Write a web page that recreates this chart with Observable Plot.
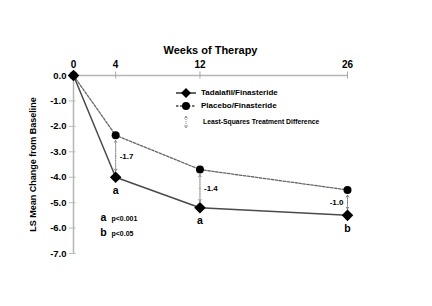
<!DOCTYPE html>
<html>
<head>
<meta charset="utf-8">
<script src="https://cdn.jsdelivr.net/npm/d3@7"></script>
<script src="https://cdn.jsdelivr.net/npm/@observablehq/plot@0.6"></script>
<style>
  body { margin: 0; background: white; }
  #wrap { position: relative; width: 432px; height: 306px; font-family: "Liberation Sans", Arial, sans-serif; font-weight: bold; }
  #legend { position: absolute; left: 175px; top: 86px; }
  .row { display: flex; align-items: center; height: 13px; }
  .row span { font-size: 8px; margin-left: 4px; }
  .row.small { height: 17px; margin-top: 1px; }
  .row.small span { font-size: 6.8px; margin-left: 6px; }
</style>
</head>
<body>
<div id="wrap"></div>
<script>
const weeks = [0, 4, 12, 26];
const tadalafil = [0, -4.0, -5.2, -5.5];
const placebo = [0, -2.35, -3.7, -4.5];
const seriesNames = ["Tadalafil/Finasteride", "Placebo/Finasteride"];
const diffWeeks = [4, 12, 26];
const diffLabels = ["-1.7", "-1.4", "-1.0"];
const sigLetters = ["a", "a", "b"];
const xTicks = [0, 4, 12, 26];
const yTicks = [0, -1, -2, -3, -4, -5, -6, -7];
const footLetters = ["a", "b"];
const footTexts = ["p<0.001", "p<0.05"];
const legendDiffText = "Least-Squares Treatment Difference";

const tadRows = weeks.map((w, i) => ({week: w, value: tadalafil[i]}));
const plaRows = weeks.map((w, i) => ({week: w, value: placebo[i]}));
const diffRows = diffWeeks.map((w, i) => {
  const j = weeks.indexOf(w);
  return {week: w, pla: placebo[j], tad: tadalafil[j], mid: (placebo[j] + tadalafil[j]) / 2, label: diffLabels[i], sig: sigLetters[i]};
});

const footMarks = footLetters.flatMap((l, i) => [
  Plot.text([l], {frameAnchor: "bottom-left", dx: 30, dy: -33 + i * 15, fontSize: 10.5, textAnchor: "middle"}),
  Plot.text([footTexts[i]], {frameAnchor: "bottom-left", dx: 38, dy: -33 + i * 15, fontSize: 7, textAnchor: "start"})
]);

const plot = Plot.plot({
  width: 432, height: 306,
  marginTop: 75, marginLeft: 73, marginRight: 85, marginBottom: 53,
  style: {fontFamily: "Liberation Sans, Arial, sans-serif", fontWeight: "bold", background: "white", color: "black", overflow: "visible"},
  x: {domain: [0, 26]},
  y: {domain: [-7, 0]},
  marks: [
    Plot.ruleX([0], {y1: -7, y2: 0, stroke: "#b5b5b5", strokeWidth: 1.5}),
    Plot.ruleY([0], {x1: 0, x2: 26, stroke: "#b5b5b5", strokeWidth: 1.5}),
    Plot.ruleX(xTicks.slice(1), {y1: -0.14, y2: 0.14, stroke: "#aaa"}),
    Plot.ruleY(yTicks.slice(1), {x1: -0.4, x2: 0.25, stroke: "#bbb"}),
    Plot.axisX({anchor: "top", ticks: xTicks, tickSize: 0, tickPadding: 8, tickFormat: d => String(d), fontSize: 10, label: null}),
    Plot.axisY({anchor: "left", ticks: yTicks, tickSize: 0, tickPadding: 7, tickFormat: d => d.toFixed(1), fontSize: 9.5, label: null}),
    Plot.text(["Weeks of Therapy"], {frameAnchor: "top", dy: -29, fontSize: 11}),
    Plot.text(["LS Mean Change from Baseline"], {frameAnchor: "left", dx: -40, rotate: -90, textAnchor: "middle", fontSize: 9}),
    Plot.line(plaRows, {x: "week", y: "value", stroke: "#666", strokeWidth: 1.3, strokeDasharray: "2.5,1.5"}),
    Plot.line(tadRows, {x: "week", y: "value", stroke: "#4a4a4a", strokeWidth: 1.5}),
    Plot.arrow(diffRows, {x1: "week", x2: "week", y1: "mid", y2: "pla", insetEnd: 5, stroke: "#777", strokeWidth: 0.9, strokeDasharray: "1,1", headLength: 4}),
    Plot.arrow(diffRows, {x1: "week", x2: "week", y1: "mid", y2: "tad", insetEnd: 6, stroke: "#777", strokeWidth: 0.9, strokeDasharray: "1,1", headLength: 4}),
    Plot.dot(plaRows, {x: "week", y: "value", r: 4, fill: "black", symbol: "circle"}),
    Plot.dot(tadRows, {x: "week", y: "value", r: 5.2, fill: "black", symbol: "diamond2"}),
    Plot.text(diffRows.filter(d => d.week !== 26), {x: "week", y: "mid", text: "label", dx: 4, textAnchor: "start", fontSize: 8}),
    Plot.text(diffRows.filter(d => d.week === 26), {x: "week", y: "mid", text: "label", dx: -4, textAnchor: "end", fontSize: 8}),
    Plot.text(diffRows, {x: "week", y: "tad", text: "sig", dy: 13, fontSize: 10.5}),
    ...footMarks
  ]
});

const wrap = document.getElementById("wrap");
wrap.appendChild(plot);

const legend = document.createElement("div");
legend.id = "legend";
legend.innerHTML = `
  <div class="row"><svg width="22" height="12"><line x1="1" x2="21" y1="6" y2="6" stroke="#333" stroke-width="1.5"/><path d="M11,1 L16,6 L11,11 L6,6 Z" fill="black"/></svg><span>${seriesNames[0]}</span></div>
  <div class="row"><svg width="22" height="12"><line x1="1" x2="21" y1="6" y2="6" stroke="#444" stroke-width="1.3" stroke-dasharray="2.5,1.5"/><circle cx="11" cy="6" r="4" fill="black"/></svg><span>${seriesNames[1]}</span></div>
  <div class="row small"><svg width="22" height="14"><line x1="11" x2="11" y1="2" y2="12" stroke="#777" stroke-width="0.9" stroke-dasharray="1,1"/><path d="M9.5,3.5 L11,1 L12.5,3.5" fill="none" stroke="#777" stroke-width="0.8"/><path d="M9.5,10.5 L11,13 L12.5,10.5" fill="none" stroke="#777" stroke-width="0.8"/></svg><span>${legendDiffText}</span></div>
`;
wrap.appendChild(legend);
</script>
</body>
</html>
